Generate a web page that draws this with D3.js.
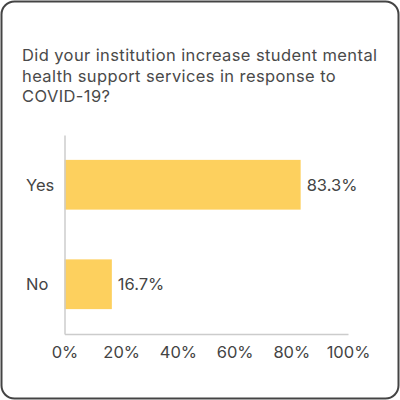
<!DOCTYPE html>
<html>
<head>
<meta charset="utf-8">
<script src="https://cdn.jsdelivr.net/npm/d3@7"></script>
<style>
  body { margin: 0; background: #fff; }
  text { font-family: "Inter", "Roboto", sans-serif; }
</style>
</head>
<body>
<div id="chart"></div>
<script>
// data
var titleLines = ["Did your institution increase student mental", "health support services in response to", "COVID-19?"];
var categories = ["Yes", "No"];
var values = [83.3, 16.7];
var tickValues = [0, 20, 40, 60, 80, 100];

var svg = d3.select("#chart").append("svg")
    .attr("width", 400)
    .attr("height", 400);

// card frame
svg.append("rect")
    .attr("x", 1.5).attr("y", 1.5)
    .attr("width", 397).attr("height", 397)
    .attr("rx", 13).attr("ry", 13)
    .attr("fill", "#fff")
    .attr("stroke", "#444")
    .attr("stroke-width", 2);

// title
svg.append("text")
    .attr("x", 22)
    .attr("y", 61)
    .attr("fill", "#4a4a4a")
    .style("font-size", "16.5px")
    .style("letter-spacing", "0.4px")
    .selectAll("tspan")
    .data(titleLines)
    .enter()
    .append("tspan")
    .attr("x", 22)
    .attr("dy", (d, i) => i === 0 ? 0 : 20.7)
    .text(d => d);

// scales
var x = d3.scaleLinear().domain([0, 100]).range([64.5, 348]);
var y = d3.scaleBand().domain(categories).range([135, 334]).paddingInner(0.5).paddingOuter(0.25);

var g = svg.append("g");

// bars
g.selectAll("rect.bar")
    .data(values)
    .enter()
    .append("rect")
    .attr("class", "bar")
    .attr("x", x(0))
    .attr("y", (d, i) => y(categories[i]))
    .attr("width", d => x(d) - x(0))
    .attr("height", y.bandwidth())
    .attr("fill", "#fdd05e");

// value labels
g.selectAll("text.val")
    .data(values)
    .enter()
    .append("text")
    .attr("class", "val")
    .attr("x", d => x(d) + 6)
    .attr("y", (d, i) => y(categories[i]) + y.bandwidth() / 2)
    .attr("dy", "0.35em")
    .attr("fill", "#444")
    .style("font-size", "16.5px")
    .text(d => d.toFixed(1) + "%");

// category labels (left aligned)
g.selectAll("text.cat")
    .data(categories)
    .enter()
    .append("text")
    .attr("class", "cat")
    .attr("x", 26)
    .attr("y", d => y(d) + y.bandwidth() / 2)
    .attr("dy", "0.35em")
    .attr("fill", "#444")
    .style("font-size", "16.5px")
    .text(d => d);

// x axis
var xAxis = d3.axisBottom(x)
    .tickValues(tickValues)
    .tickSize(0)
    .tickPadding(12)
    .tickFormat(d => d + "%");

var ax = svg.append("g")
    .attr("transform", "translate(0,334)")
    .call(xAxis);
ax.select(".domain").attr("stroke", "#ccc").attr("stroke-width", 1.5);
ax.selectAll("text")
    .attr("fill", "#444")
    .style("font-size", "16.5px")
    .style("font-family", "Inter, Roboto, sans-serif");

// y axis line
svg.append("g")
    .attr("transform", "translate(64.5,0)")
    .call(d3.axisLeft(d3.scaleLinear().range([135, 334])).ticks(0).tickSize(0))
    .select(".domain")
    .attr("stroke", "#ccc")
    .attr("stroke-width", 1.5);
</script>
</body>
</html>
